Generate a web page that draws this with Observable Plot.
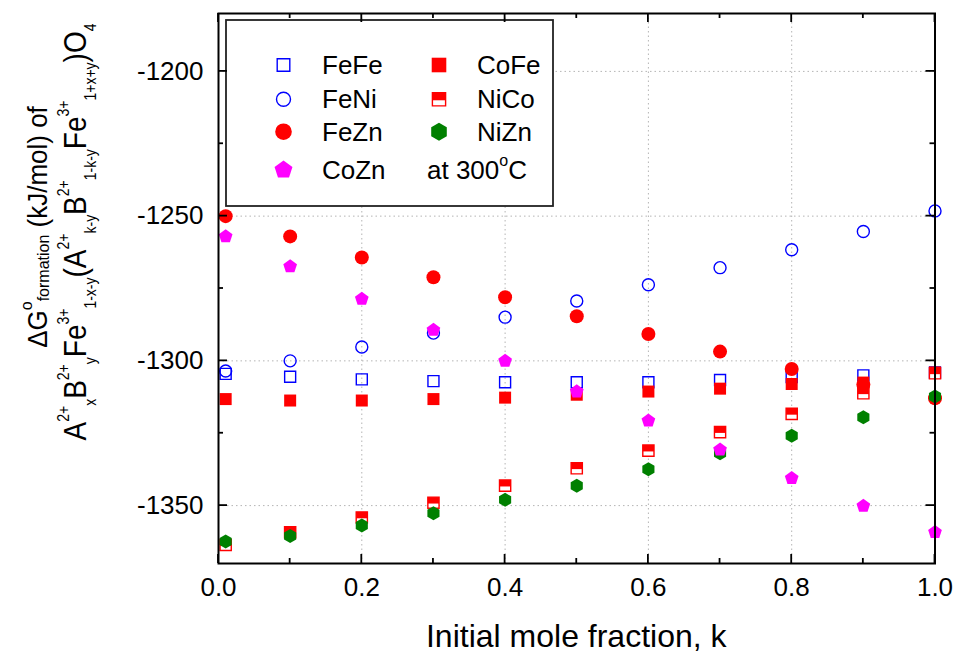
<!DOCTYPE html>
<html><head><meta charset="utf-8">
<script src="https://cdn.jsdelivr.net/npm/d3@7"></script>
<script src="https://cdn.jsdelivr.net/npm/@observablehq/plot@0.6"></script>
<style>body{margin:0;background:#fff}#chart{width:957px;height:653px}</style>
</head><body><div id="chart"></div>
<script>
// ---- data ----
const k    = [0.01, 0.1, 0.2, 0.3, 0.4, 0.5, 0.6, 0.7, 0.8, 0.9, 1.0];
const FeFe = [-1304.5,-1305.5,-1306.4,-1307,-1307.4,-1307.4,-1307.4,-1306.6,-1305.6,-1305,-1304];
const FeNi = [-1303.5,-1300,-1295.2,-1290.4,-1284.9,-1279.3,-1273.7,-1267.8,-1261.6,-1255.3,-1248.2];
const FeZn = [-1250,-1257,-1264.3,-1271.1,-1278,-1284.6,-1290.7,-1296.8,-1302.8,-1308.2,-1312.9];
const CoFe = [-1313.2,-1313.7,-1313.7,-1313.2,-1312.7,-1311.7,-1310.6,-1309.6,-1308,-1307.5,-1304];
const NiCo = [-1363.6,-1359.2,-1354.1,-1349,-1343.1,-1337.1,-1331,-1324.6,-1318.3,-1311.2,-1304.3];
const NiZn = [-1362.4,-1360.5,-1356.9,-1352.6,-1348,-1343.1,-1337.4,-1331.9,-1325.9,-1319.5,-1312.3];
const CoZn = [-1257,-1267.4,-1278.6,-1289.3,-1300,-1310.6,-1320.7,-1330.7,-1340.5,-1350.1,-1359.2];
const xTicks = [0, 0.2, 0.4, 0.6, 0.8, 1.0];
const xMinor = [0.1, 0.3, 0.5, 0.7, 0.9];
const yTicks = [-1350, -1300, -1250, -1200];
const yMinor = [-1325, -1275, -1225];
const legendLeft = ["FeFe", "FeNi", "FeZn", "CoZn"];
const legendRight = ["CoFe", "NiCo", "NiZn"];
const tempNote = ["at 300", "o", "C"];
const xTitle = "Initial mole fraction, k";

// ---- symbols ----
const R = s => Math.sqrt(s / Math.PI);
const sqSym = {draw(c, s){const r=R(s); c.moveTo(-r,-r); c.lineTo(r,-r); c.lineTo(r,r); c.lineTo(-r,r); c.closePath();}};
const topHalfSym = {draw(c, s){const r=R(s); c.moveTo(-r,-r); c.lineTo(r,-r); c.lineTo(r,0.15*r); c.lineTo(-r,0.15*r); c.closePath();}};
const circSym = {draw(c, s){const r=R(s); c.moveTo(r,0); c.arc(0,0,r,0,2*Math.PI); c.closePath();}};
const pentSym = {draw(c, s){const r=R(s); for(let i=0;i<5;i++){const a=-Math.PI/2+i*2*Math.PI/5; i?c.lineTo(r*Math.cos(a),r*Math.sin(a)):c.moveTo(r*Math.cos(a),r*Math.sin(a));} c.closePath();}};
const hexSym = {draw(c, s){const r=R(s); for(let i=0;i<6;i++){const a=-Math.PI/2+i*Math.PI/3; i?c.lineTo(r*Math.cos(a),r*Math.sin(a)):c.moveTo(r*Math.cos(a),r*Math.sin(a));} c.closePath();}};

const series = {
  FeFe: {vals: FeFe, layers: [{symbol: sqSym, fill: "none", stroke: "#0000ff", sw: 1.4}], r: 5.5, lr: 6.3},
  FeNi: {vals: FeNi, layers: [{symbol: circSym, fill: "none", stroke: "#0000ff", sw: 1.4}], r: 6, lr: 7},
  FeZn: {vals: FeZn, layers: [{symbol: circSym, fill: "#ff0000", stroke: "none"}], r: 7, lr: 8.3},
  CoFe: {vals: CoFe, layers: [{symbol: sqSym, fill: "#ff0000", stroke: "none"}], r: 6, lr: 7.3},
  NiCo: {vals: NiCo, layers: [{symbol: sqSym, fill: "white", stroke: "#ff0000", sw: 1.4}, {symbol: topHalfSym, fill: "#ff0000", stroke: "none"}], r: 5.6, lr: 6.6},
  NiZn: {vals: NiZn, layers: [{symbol: hexSym, fill: "#008000", stroke: "none"}], r: 7, lr: 9},
  CoZn: {vals: CoZn, layers: [{symbol: pentSym, fill: "#ff00ff", stroke: "none"}], r: 7.2, lr: 9.4}
};
const drawOrder = ["FeFe", "FeNi", "FeZn", "CoFe", "NiCo", "NiZn", "CoZn"];

const dotMarks = [];
for (const name of drawOrder) {
  const s = series[name];
  const data = k.map((kk, i) => ({k: kk, v: s.vals[i]}));
  for (const L of s.layers) {
    dotMarks.push(Plot.dot(data, {x: "k", y: "v", symbol: L.symbol, r: s.r, fill: L.fill, stroke: L.stroke, strokeWidth: L.sw || 0}));
  }
}

const font = "'Liberation Sans', Arial, sans-serif";
const plot = Plot.plot({
  width: 957, height: 653,
  marginLeft: 218, marginRight: 22.5, marginTop: 13, marginBottom: 90,
  style: {fontSize: "26px", fontFamily: font, color: "black", background: "white"},
  x: {domain: [0, 1], ticks: xTicks, tickFormat: d => d.toFixed(1), tickSize: 0, tickPadding: 14, label: null},
  y: {domain: [-1370, -1180], ticks: yTicks, tickFormat: d => String(d), tickSize: 0, tickPadding: 15, label: null},
  marks: [
    Plot.ruleX(xTicks.slice(1, -1), {stroke: "#b4b4b4", strokeWidth: 1, strokeDasharray: "1.5,3"}),
    Plot.ruleY(yTicks, {stroke: "#b4b4b4", strokeWidth: 1, strokeDasharray: "1.5,3"}),
    ...dotMarks,
    Plot.frame({stroke: "black", strokeWidth: 2})
  ]
});
document.getElementById("chart").appendChild(plot);

const svg = d3.select(plot);
const xs = plot.scale("x"), ys = plot.scale("y");
const sx = d3.scaleLinear(xs.domain, xs.range);
const sy = d3.scaleLinear(ys.domain, ys.range);
const [X0, X1] = xs.range;
const [Y0, Y1] = ys.range; // Y0 bottom, Y1 top

// ---- legend ----
const lg = svg.append("g").attr("font-family", font).attr("font-size", 26).attr("text-anchor", "start");
lg.append("rect").attr("x", 226).attr("y", 20).attr("width", 327).attr("height", 186)
  .attr("fill", "white").attr("stroke", "#222").attr("stroke-width", 1.8);
const rowsY = [65, 99.3, 131.7, 170];
function legendSymbol(name, cx, cy) {
  const s = series[name];
  for (const L of s.layers) {
    const p = d3.path(); L.symbol.draw(p, s.lr * s.lr * Math.PI);
    lg.append("path").attr("d", p.toString()).attr("transform", `translate(${cx},${cy})`)
      .attr("fill", L.fill).attr("stroke", L.stroke).attr("stroke-width", L.sw || 0);
  }
}
legendLeft.forEach((name, i) => {
  legendSymbol(name, 283.5, rowsY[i]);
  lg.append("text").attr("x", 322).attr("y", rowsY[i] + 9).text(name);
});
legendRight.forEach((name, i) => {
  legendSymbol(name, 439, rowsY[i]);
  lg.append("text").attr("x", 477).attr("y", rowsY[i] + 9).text(name);
});
const tn = lg.append("text").attr("x", 427).attr("y", rowsY[3] + 9);
tn.append("tspan").text(tempNote[0]);
tn.append("tspan").attr("font-size", 16).attr("dy", -13).text(tempNote[1]);
tn.append("tspan").attr("dy", 13).text(tempNote[2]);

// ---- inward ticks on all four sides ----
const tk = svg.append("g").attr("stroke", "black").attr("stroke-width", 1.8);
const tick = (x1, y1, x2, y2) => tk.append("line").attr("x1", x1).attr("y1", y1).attr("x2", x2).attr("y2", y2);
for (const [arr, len] of [[xTicks, 9], [xMinor, 5]]) for (const v of arr) {
  const x = sx(v); tick(x, Y0, x, Y0 - len); tick(x, Y1, x, Y1 + len);
}
for (const [arr, len] of [[yTicks, 9], [yMinor, 5]]) for (const v of arr) {
  const y = sy(v); tick(X0, y, X0 + len, y); tick(X1, y, X1 - len, y);
}

// ---- axis titles ----
svg.append("text").attr("x", (X0 + X1) / 2).attr("y", 647).attr("text-anchor", "middle")
  .attr("font-family", font).attr("font-size", 32).text(xTitle);

function rich(x, y, segs, mainSize, scriptSize, supShift, subShift, stretch) {
  const t = svg.append("text").attr("transform", `translate(${x},${y}) rotate(-90) scale(1,${stretch})`)
    .attr("text-anchor", "middle").attr("font-family", font).style("white-space", "pre");
  let cur = 0;
  for (const [txt, kind] of segs) {
    const target = kind === "sup" ? supShift : kind === "sub" ? subShift : 0;
    t.append("tspan").attr("dy", target - cur).attr("font-size", kind ? scriptSize : mainSize).text(txt);
    cur = target;
  }
}
const yTitle1 = [["\u0394G"], ["o", "sup"], ["formation", "sub"], [" (kJ/mol) of"]];
const yTitle2 = [["A"], ["2+", "sup"], ["x", "sub"], ["B"], ["2+", "sup"], ["y", "sub"], ["Fe"], ["3+", "sup"], ["1-x-y", "sub"],
  ["(A"], ["2+", "sup"], ["k-y", "sub"], ["B"], ["2+", "sup"], ["1-k-y", "sub"], ["Fe"], ["3+", "sup"], ["1+x+y", "sub"], [")O"], ["4", "sub"]];
rich(47, 227, yTitle1, 26, 16, -14, 2, 1.05);
rich(86, 232, yTitle2, 28, 14, -15, 9, 1.15);
</script>
</body></html>
